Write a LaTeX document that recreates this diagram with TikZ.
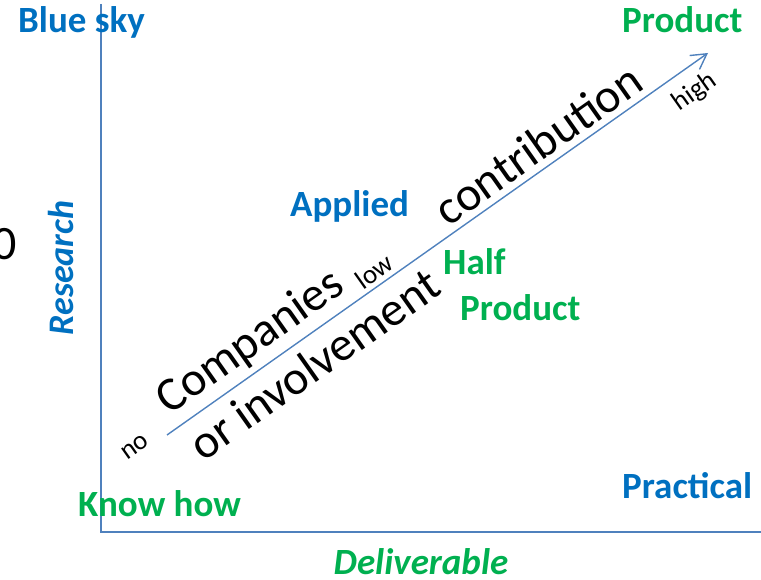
\documentclass[tikz,border=0pt]{standalone}
\usepackage{fontspec}
\setmainfont{Carlito}
\usetikzlibrary{arrows.meta}
\definecolor{axisblue}{HTML}{4F81BD}
\definecolor{labelblue}{HTML}{0070C0}
\definecolor{labelgreen}{HTML}{00B050}
\begin{document}
\begin{tikzpicture}[x=1pt,y=-1pt,
  axis/.style={draw=axisblue, line width=1.8pt},
  trend/.style={draw=axisblue, line width=1.4pt,
    -{Straight Barb[length=15pt,width=17pt,line width=1.4pt]}},
  corner/.style={font=\fontsize{37}{40}\selectfont\bfseries, inner sep=0pt, anchor=base west},
  bluelbl/.style={corner, text=labelblue},
  greenlbl/.style={corner, text=labelgreen},
  along/.style={rotate=35.2, inner sep=0pt, text=black},
  bigword/.style={along, font=\fontsize{48}{52}\selectfont},
  smallword/.style={along, font=\fontsize{27}{30}\selectfont}]
\useasboundingbox (0,0) rectangle (761,580);

% axes
\coordinate (top) at (101,4);
\coordinate (origin) at (101,532);
\coordinate (right) at (761,532);
\draw[axis] (top) -- (origin) -- (right);

% axis titles
\node[font=\fontsize{36}{40}\selectfont\bfseries\itshape, text=labelblue,
      rotate=90, inner sep=0pt, anchor=base] (research) at (73,268) {Research};
\node[font=\fontsize{37}{40}\selectfont\bfseries\itshape, text=labelgreen,
      inner sep=0pt, anchor=base] (deliverable) at (421,574) {Deliverable};

% corner and intermediate labels
\node[bluelbl] (bluesky) at (18,33) {Blue sky};
\node[greenlbl] (product) at (622,33) {Product};
\node[bluelbl] (applied) at (290,217) {Applied};
\node[greenlbl] (half) at (443,275) {Half};
\node[greenlbl] (halfproduct) at (460,320) {Product};
\node[bluelbl] (practical) at (622,498) {Practical};
\node[greenlbl] (knowhow) at (78,516) {Know how};

% stray digit at the left edge
\node[font=\fontsize{48}{50}\selectfont, inner sep=0pt, anchor=base east] (zero) at (17,260) {0};

% trend arrow
\coordinate (low end) at (167,435);
\coordinate (high end) at (708,53);
\draw[trend] (low end) -- (high end);

% words along the arrow
\node[smallword] (no) at (135,447) {no};
\node[bigword] (companies) at (251,343) {Companies};
\node[smallword] (low) at (374,271) {low};
\node[bigword] (involvement) at (314,364) {or involvement};
\node[bigword] (contribution) at (538,144) {contribution};
\node[smallword] (high) at (695,92) {high};
\end{tikzpicture}
\end{document}
